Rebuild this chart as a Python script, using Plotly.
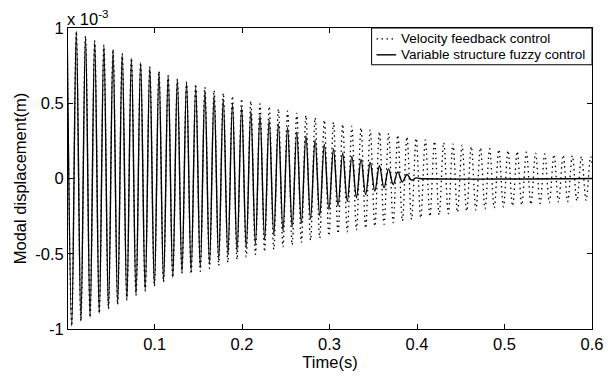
import numpy as np
import plotly.graph_objects as go

# ---- data (displacement in units of 1e-3 m) ----
period = 0.0105  # oscillation period (s)

common_peaks = [1.0, 0.977, 0.945, 0.916, 0.886, 0.858, 0.829, 0.800, 0.770,
                0.742, 0.712, 0.684, 0.660, 0.640]            # k = 0..13
common_troughs = [-0.980, -0.947, -0.923, -0.896, -0.865, -0.837, -0.806,
                  -0.775, -0.746, -0.715, -0.686, -0.658, -0.627]  # k = 0.5..12.5

vel_peaks = common_peaks + [
    0.628, 0.607, 0.587, 0.568, 0.548, 0.530, 0.513, 0.495, 0.478, 0.462,
    0.447, 0.433, 0.418, 0.403, 0.388, 0.373, 0.360, 0.348, 0.337, 0.323,
    0.311, 0.299, 0.288, 0.277, 0.267, 0.257, 0.247, 0.238, 0.229, 0.221,
    0.213, 0.205, 0.198, 0.192, 0.186, 0.180, 0.175, 0.169, 0.164, 0.159,
    0.155, 0.151, 0.147, 0.144]                                # k = 14..57
vel_troughs = common_troughs + [
    -0.634, -0.617, -0.597, -0.578, -0.558, -0.539, -0.521, -0.504, -0.486,
    -0.470, -0.454, -0.440, -0.425, -0.410, -0.395, -0.380, -0.366, -0.354,
    -0.342, -0.330, -0.317, -0.305, -0.293, -0.282, -0.272, -0.262, -0.252,
    -0.242, -0.233, -0.225, -0.217, -0.209, -0.201, -0.195, -0.189, -0.183,
    -0.177, -0.172, -0.166, -0.161, -0.157, -0.153, -0.149, -0.145, -0.141]  # k = 13.5..57.5

fuzzy_peaks = common_peaks + [
    0.605, 0.583, 0.553, 0.526, 0.497, 0.472, 0.447, 0.423, 0.390, 0.363,
    0.339, 0.310, 0.284, 0.256, 0.228, 0.196, 0.170, 0.147, 0.127, 0.106,
    0.085, 0.064, 0.044, 0.027]                                # k = 14..37
fuzzy_troughs = common_troughs + [
    -0.617, -0.594, -0.568, -0.540, -0.512, -0.485, -0.460, -0.436, -0.407,
    -0.376, -0.351, -0.324, -0.297, -0.270, -0.246, -0.207, -0.181, -0.152,
    -0.128, -0.107, -0.084, -0.062, -0.040, -0.023, -0.011]    # k = 13.5..37.5
fuzzy_tail_t = [0.399, 0.403, 0.6]
fuzzy_tail_v = [0.004, 0.0, 0.0]

series_names = ["Velocity feedback control", "Variable structure fuzzy control"]
x_ticks = [0.1, 0.2, 0.3, 0.4, 0.5, 0.6]
x_tick_text = ["0.1", "0.2", "0.3", "0.4", "0.5", "0.6"]
y_ticks = [-1, -0.5, 0, 0.5, 1]
y_tick_text = ["-1", "-0.5", "0", "0.5", "1"]


def interleave(peaks, troughs):
    vals = []
    for i in range(max(len(peaks), len(troughs))):
        if i < len(peaks):
            vals.append(peaks[i])
        if i < len(troughs):
            vals.append(troughs[i])
    t = list(np.arange(len(vals)) * period / 2)
    return t, vals


vel_t, vel_v = interleave(vel_peaks, vel_troughs)
fz_t, fz_v = interleave(fuzzy_peaks, fuzzy_troughs)
fz_t = fz_t + fuzzy_tail_t
fz_v = fz_v + fuzzy_tail_v

FONT = "Liberation Sans, Arial, sans-serif"
FS = 16.5
DOT = "1.5px,3.5px"
SOLID_W = 1.4

fig = go.Figure()
fig.add_trace(go.Scatter(
    x=vel_t, y=vel_v, mode="lines", name=series_names[0], showlegend=False,
    line=dict(color="black", width=1.3, dash=DOT, shape="spline", smoothing=1),
))
fig.add_trace(go.Scatter(
    x=fz_t, y=fz_v, mode="lines", name=series_names[1], showlegend=False,
    line=dict(color="black", width=SOLID_W, shape="spline", smoothing=1),
))

axis_common = dict(
    showline=True, linecolor="black", linewidth=1, mirror="ticks",
    ticks="inside", ticklen=5, tickcolor="black", tickwidth=1,
    showgrid=False, zeroline=False,
    tickfont=dict(family=FONT, size=FS, color="black"),
)

fig.update_xaxes(
    range=[0.001, 0.6], tickvals=x_ticks, ticktext=x_tick_text,
    title=dict(text="Time(s)", font=dict(family=FONT, size=FS, color="black"), standoff=0),
    **axis_common,
)
fig.update_yaxes(
    range=[-1, 1], tickvals=y_ticks, ticktext=y_tick_text,
    title=dict(text="Modal displacement(m)", font=dict(family=FONT, size=FS, color="black"), standoff=4),
    **axis_common,
)

fig.add_annotation(
    x=0, y=1, xref="paper", yref="paper", xanchor="left", yanchor="bottom",
    text="x 10<sup>-3</sup>", showarrow=False, xshift=-3, yshift=-2,
    font=dict(family=FONT, size=FS, color="black"),
)

# ---- legend box drawn in the MATLAB style (top-right, touching the frame) ----
L_LEFT, L_RIGHT, L_BOTTOM, L_TOP = 0.5794, 1.0, 0.8779, 1.0
ROW_Y = [0.9637, 0.9109]
SAMPLE_X0, SAMPLE_X1, TEXT_X = 0.5888, 0.6262, 0.6318
fig.add_shape(type="rect", xref="paper", yref="paper",
              x0=L_LEFT, x1=L_RIGHT, y0=L_BOTTOM, y1=L_TOP,
              line=dict(color="black", width=1), fillcolor="white", layer="above")
for i, name in enumerate(series_names):
    fig.add_shape(type="line", xref="paper", yref="paper",
                  x0=SAMPLE_X0, x1=SAMPLE_X1, y0=ROW_Y[i], y1=ROW_Y[i],
                  line=dict(color="black", width=1.3 if i == 0 else SOLID_W,
                            dash=DOT if i == 0 else "solid"),
                  layer="above")
    fig.add_annotation(x=TEXT_X, y=ROW_Y[i], xref="paper", yref="paper",
                       xanchor="left", yanchor="middle", text=name, showarrow=False,
                       font=dict(family=FONT, size=13.5, color="black"))

fig.update_layout(
    width=615, height=376,
    margin=dict(l=68, r=12, t=28, b=45),
    paper_bgcolor="white", plot_bgcolor="white",
    showlegend=False,
)

fig.write_html("out.html")
